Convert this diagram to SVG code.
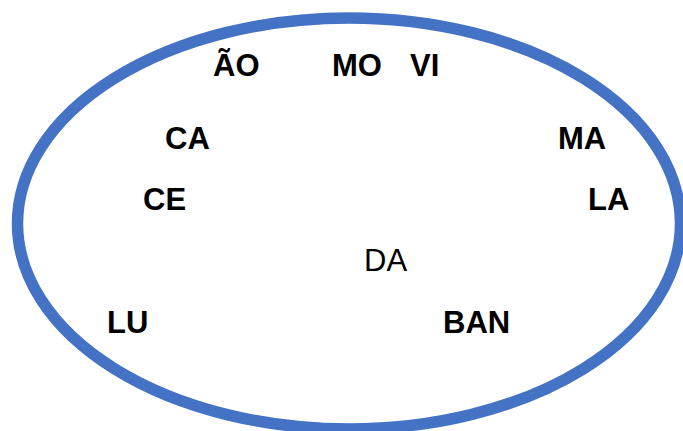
<svg xmlns="http://www.w3.org/2000/svg" width="683" height="431" viewBox="0 0 683 431">
<style>
.b{font-family:"Liberation Sans",Arial,sans-serif;font-weight:bold;font-size:31px;fill:#000}
.r{font-family:"Liberation Sans",Arial,sans-serif;font-size:31px;fill:#000}
</style>
<rect width="683" height="431" fill="#fff"/>
<g id="ellipse"><ellipse cx="349" cy="223.5" rx="331.5" ry="205.5" fill="none" stroke="#4472C4" stroke-width="11.5"/></g>
<g id="connectors"/>
<g id="n-ao"><text class="b" x="213" y="76">ÃO</text></g>
<g id="n-mo"><text class="b" x="332" y="76">MO</text></g>
<g id="n-vi"><text class="b" x="410" y="76">VI</text></g>
<g id="n-ca"><text class="b" x="165" y="149">CA</text></g>
<g id="n-ma"><text class="b" x="558" y="149">MA</text></g>
<g id="n-ce"><text class="b" x="143" y="210">CE</text></g>
<g id="n-la"><text class="b" x="588" y="210">LA</text></g>
<g id="n-da"><text class="r" x="364" y="271">DA</text></g>
<g id="n-lu"><text class="b" x="107" y="333">LU</text></g>
<g id="n-ban"><text class="b" x="443" y="333">BAN</text></g>
</svg>
